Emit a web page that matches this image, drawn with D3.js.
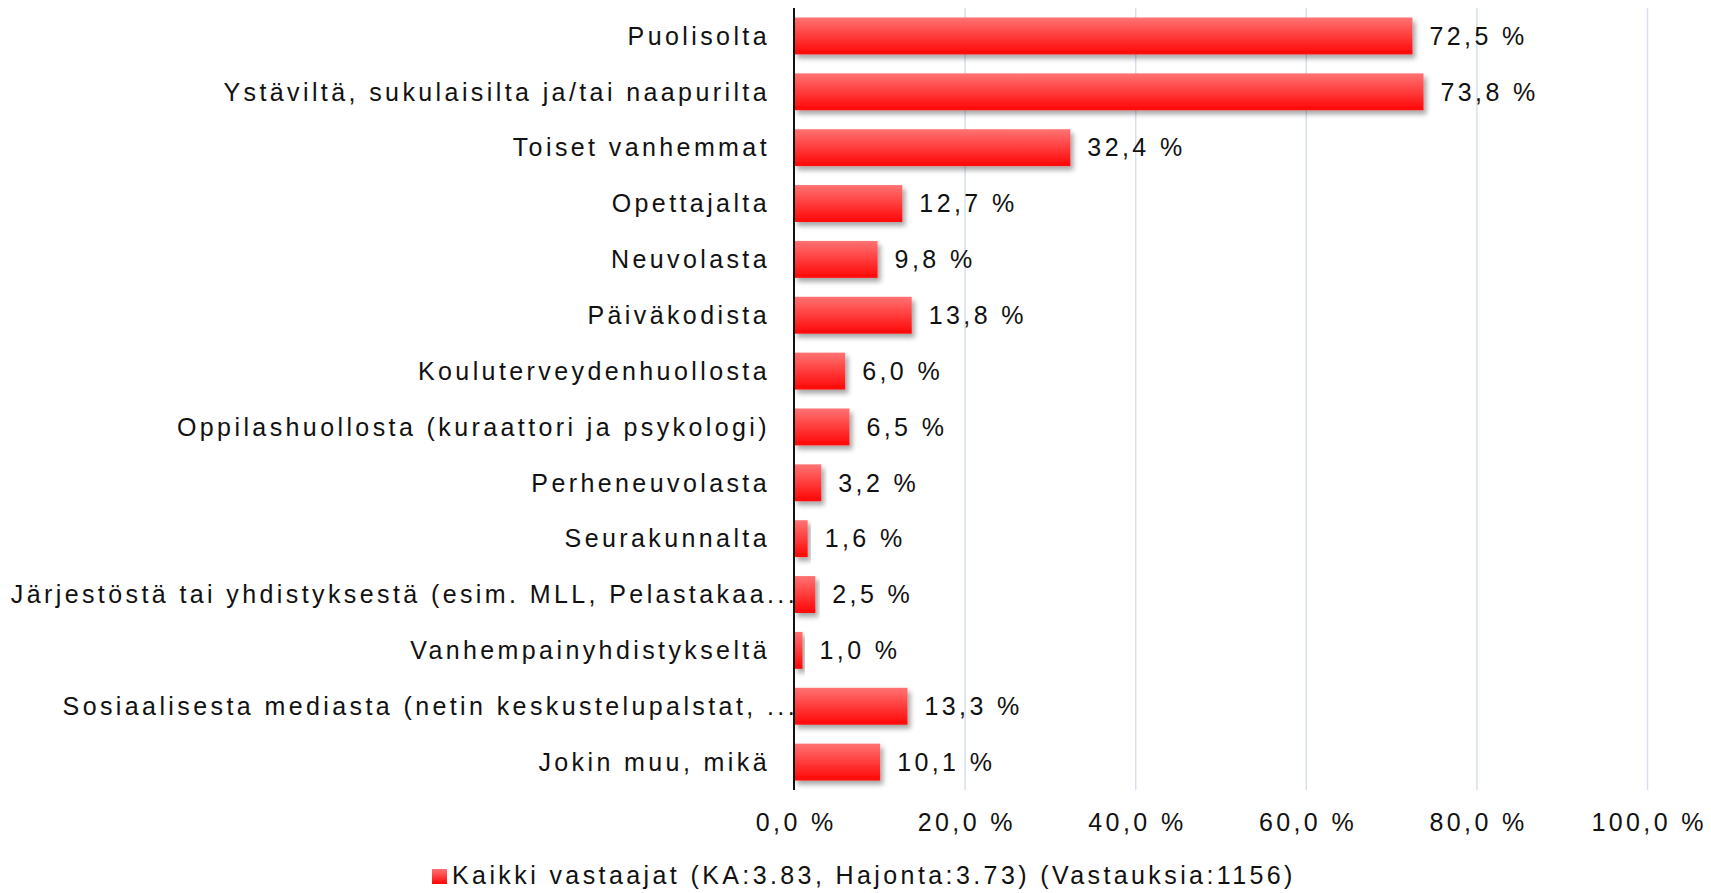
<!DOCTYPE html>
<html>
<head>
<meta charset="utf-8">
<script src="https://cdn.jsdelivr.net/npm/d3@7"></script>
<style>
    body { margin: 0; background: #fff; }
    #chart text {
        font-family: "Liberation Sans", Arial, sans-serif;
        font-size: 25px;
        letter-spacing: 3.4px;
        fill: #111;
    }
</style>
</head>
<body>
<div id="chart"></div>
<script>
// chart data
var categories = [
    "Puolisolta",
    "Ystäviltä, sukulaisilta ja/tai naapurilta",
    "Toiset vanhemmat",
    "Opettajalta",
    "Neuvolasta",
    "Päiväkodista",
    "Kouluterveydenhuollosta",
    "Oppilashuollosta (kuraattori ja psykologi)",
    "Perheneuvolasta",
    "Seurakunnalta",
    "Järjestöstä tai yhdistyksestä (esim. MLL, Pelastakaa...",
    "Vanhempainyhdistykseltä",
    "Sosiaalisesta mediasta (netin keskustelupalstat, ...",
    "Jokin muu, mikä"
];
var values = [72.5, 73.8, 32.4, 12.7, 9.8, 13.8, 6.0, 6.5, 3.2, 1.6, 2.5, 1.0, 13.3, 10.1];
var xTicks = [0, 20, 40, 60, 80, 100];
var seriesName = "Kaikki vastaajat (KA:3.83, Hajonta:3.73) (Vastauksia:1156)";

var width = 1711, height = 893;
var plot = { left: 794, right: 1647, top: 8, bottom: 790 };

var svg = d3.select("#chart").append("svg")
    .attr("width", width)
    .attr("height", height);

// bar gradient + shadow
var defs = svg.append("defs");
var grad = defs.append("linearGradient")
    .attr("id", "barFill")
    .attr("x1", 0).attr("y1", 0).attr("x2", 0).attr("y2", 1);
grad.append("stop").attr("offset", "0%").attr("stop-color", "#ff7373");
grad.append("stop").attr("offset", "100%").attr("stop-color", "#ff0505");

var shadow = defs.append("filter")
    .attr("id", "barShadow")
    .attr("x", "-10%").attr("y", "-30%")
    .attr("width", "130%").attr("height", "180%");
shadow.append("feDropShadow")
    .attr("dx", 3).attr("dy", 4)
    .attr("stdDeviation", 2.5)
    .attr("flood-color", "#000")
    .attr("flood-opacity", 0.35);

var x = d3.scaleLinear().domain([0, 100]).range([plot.left, plot.right]);
var y = d3.scaleBand()
    .domain(categories)
    .range([plot.top, plot.bottom])
    .paddingInner(0.34)
    .paddingOuter(0.17);

var pct = (v) => d3.format(".1f")(v).replace(".", ",") + " %";

// vertical gridlines
svg.append("g")
    .attr("transform", "translate(0," + plot.bottom + ")")
    .call(d3.axisBottom(x).tickValues(xTicks.slice(1)).tickSize(-(plot.bottom - plot.top)).tickFormat(""))
    .call((g) => g.select(".domain").remove())
    .selectAll("line")
    .attr("stroke", "#d6e0ee")
    .attr("stroke-width", 1.5);

// tick labels
svg.append("g")
    .attr("transform", "translate(0," + (plot.bottom + 29) + ")")
    .call(d3.axisBottom(x).tickValues(xTicks).tickSize(0).tickFormat(pct))
    .call((g) => g.select(".domain").remove())
    .selectAll("text")
    .attr("dx", "1.7px")
    .attr("dy", "0.35em");

// category labels (truncated ones run under the bars like in excel)
svg.append("g").selectAll("text")
    .data(categories)
    .enter()
    .append("text")
    .attr("x", (d) => d.endsWith("...") ? plot.left + 4 : plot.left - 24)
    .attr("y", (d) => y(d) + y.bandwidth() / 2)
    .attr("dy", "0.35em")
    .attr("text-anchor", "end")
    .text((d) => d);

// bars
svg.append("g").selectAll("rect")
    .data(values)
    .enter()
    .append("rect")
    .attr("x", x(0))
    .attr("y", (d, i) => y(categories[i]))
    .attr("width", (d) => x(d) - x(0))
    .attr("height", y.bandwidth())
    .attr("fill", "url(#barFill)")
    .attr("filter", "url(#barShadow)");

// value labels
svg.append("g").selectAll("text")
    .data(values)
    .enter()
    .append("text")
    .attr("x", (d) => x(d) + 17)
    .attr("y", (d, i) => y(categories[i]) + y.bandwidth() / 2)
    .attr("dy", "0.35em")
    .text((d) => pct(d));

// y axis line
svg.append("line")
    .attr("x1", x(0)).attr("x2", x(0))
    .attr("y1", plot.top).attr("y2", plot.bottom)
    .attr("stroke", "#111")
    .attr("stroke-width", 2);

// legend
var legend = svg.append("g").attr("transform", "translate(432,869)");
legend.append("rect")
    .attr("width", 15).attr("height", 15)
    .attr("fill", "url(#barFill)");
legend.append("text")
    .attr("x", 20)
    .attr("y", 15)
    .text(seriesName);
</script>
</body>
</html>
